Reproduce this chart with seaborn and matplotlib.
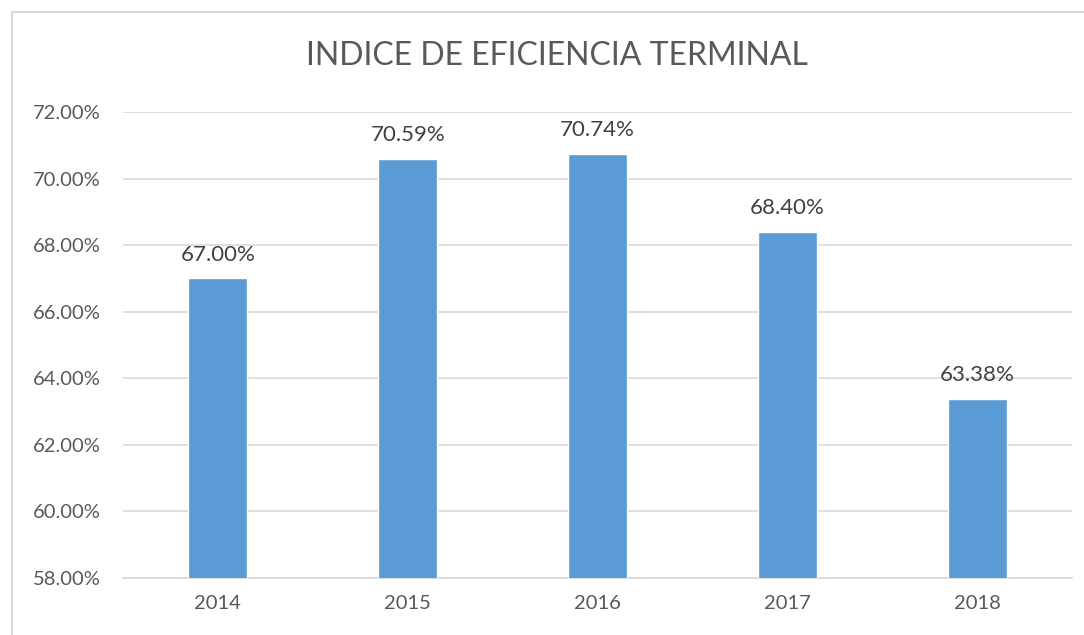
import matplotlib
matplotlib.use("Agg")
import matplotlib.pyplot as plt
import matplotlib.patches as mpatches
import seaborn as sns
import pandas as pd
from matplotlib.ticker import FuncFormatter

# datos
years = ["2014", "2015", "2016", "2017", "2018"]
eficiencia = [67.00, 70.59, 70.74, 68.40, 63.38]
titulo = "INDICE DE EFICIENCIA TERMINAL"

df = pd.DataFrame({"year": years, "valor": eficiencia})

sns.set_style("white")
plt.rcParams["font.family"] = ["Lato", "DejaVu Sans"]

W, H = 1084, 635
fig = plt.figure(figsize=(W / 100, H / 100), dpi=100)
ax = fig.add_axes([123 / W, 1 - 578 / H, (1072 - 123) / W, (578 - 112) / H])

sns.barplot(data=df, x="year", y="valor", color="#5B9BD5", width=0.31,
            saturation=1, ax=ax, zorder=3)

ax.set_ylim(58, 72)
ax.set_yticks(range(58, 73, 2))
ax.yaxis.set_major_formatter(FuncFormatter(lambda v, p: f"{v:.2f}%"))
ax.grid(axis="y", color="#D9D9D9", linewidth=1.2, zorder=0)
ax.set_axisbelow(True)
for s in ["top", "right", "left"]:
    ax.spines[s].set_visible(False)
ax.spines["bottom"].set_color("#D9D9D9")
ax.spines["bottom"].set_linewidth(1.2)
ax.tick_params(axis="both", length=0, labelsize=14.5, labelcolor="#595959")
ax.tick_params(axis="y", pad=16)
ax.tick_params(axis="x", pad=12)
ax.set_xlabel("")
ax.set_ylabel("")

for cont in ax.containers:
    ax.bar_label(cont, labels=[f"{v:.2f}%" for v in eficiencia], padding=10,
                 fontsize=16, color="#404040")

fig.text(557 / W, 1 - 56 / H, titulo, ha="center", va="center",
         fontsize=23, color="#595959")

# marco del grafico (solo se ven los bordes izquierdo y superior)
fig.add_artist(mpatches.Rectangle((12 / W, -0.1), 1.2, 1 - 12 / H + 0.1,
                                  transform=fig.transFigure, fill=False,
                                  edgecolor="#D9D9D9", linewidth=1.5))

fig.savefig("out.png", dpi=100)
